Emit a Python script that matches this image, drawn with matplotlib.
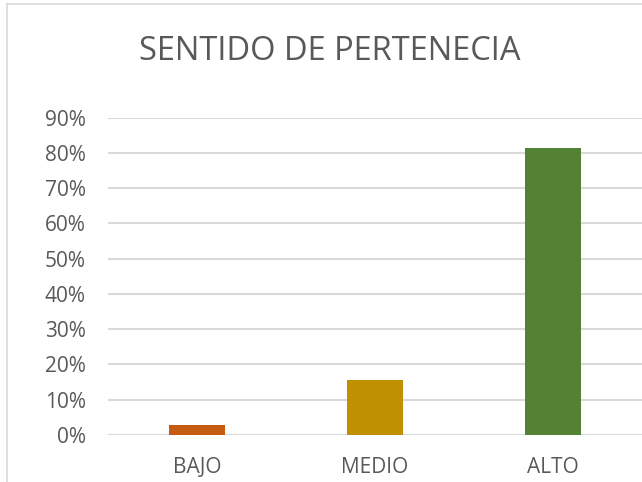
import matplotlib
matplotlib.use("Agg")
import matplotlib.pyplot as plt

categories = ["BAJO", "MEDIO", "ALTO"]
values = [0.028, 0.156, 0.813]
colors = ["#C55A11", "#BF9000", "#548235"]
yticks = [0.0, 0.1, 0.2, 0.3, 0.4, 0.5, 0.6, 0.7, 0.8, 0.9]
ytick_labels = ["0%", "10%", "20%", "30%", "40%", "50%", "60%", "70%", "80%", "90%"]
title = "SENTIDO DE PERTENECIA"

W, H = 642, 482
fig = plt.figure(figsize=(W / 100, H / 100), dpi=100)
fig.patch.set_facecolor("white")

# chart border (left and top edges visible)
fig.add_artist(plt.Line2D([7 / W, 7 / W], [0, 1 - 4 / H], color="#D9D9D9", lw=1.2, transform=fig.transFigure))
fig.add_artist(plt.Line2D([7 / W, 1], [1 - 4 / H, 1 - 4 / H], color="#D9D9D9", lw=1.2, transform=fig.transFigure))

ax = fig.add_axes([108 / W, (H - 435) / H, (W - 108) / W, (435 - 117.7) / H])
x = list(range(len(categories)))
ax.bar(x, values, width=0.315, color=colors, zorder=3)
ax.set_xlim(-0.5, 2.5)
ax.set_ylim(0, 0.9)
ax.set_yticks(yticks)
ax.set_yticklabels(ytick_labels)
ax.set_xticks(x)
ax.set_xticklabels(categories)
ax.grid(axis="y", color="#D9D9D9", lw=1.5, zorder=0)
for s in ax.spines.values():
    s.set_visible(False)
ax.tick_params(axis="both", length=0, labelsize=15, colors="#595959", labelcolor="#595959")
ax.tick_params(axis="y", pad=16)
ax.tick_params(axis="x", pad=16)
for lab in ax.get_xticklabels() + ax.get_yticklabels():
    lab.set_family("Open Sans")

fig.text(330 / W, 1 - 51 / H, title, ha="center", va="center", fontsize=23.5,
         color="#595959", family="Open Sans")

fig.savefig("out.png", dpi=100)
